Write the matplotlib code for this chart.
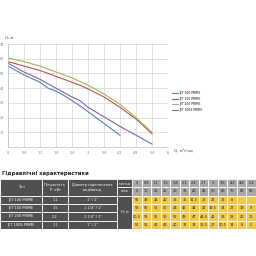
import matplotlib
matplotlib.use("Agg")
from matplotlib import pyplot as plt
from matplotlib.patches import Rectangle

# flow points (m3/h and l/min) used in the table and for the curves
q_m3h = [0, 0.6, 1.2, 1.5, 1.8, 2.1, 2.4, 2.7, 3, 3.6, 4.2, 4.8, 5.4]
q_lmin = [0, 10, 20, 25, 30, 35, 40, 45, 50, 60, 70, 80, 90]

models = ["JET 100 PRIME", "JET 150 PRIME", "JET 200 PRIME", "JET 100S PRIME"]
power = ["1,1", "1,5", "2,2", "1,1"]
diam = ['1" / 1"', '1 1/4" / 1"', '1 1/4" / 1"', '1" / 1"']
heads = [
    [55, 49, 44, 40, 38, 35, 31.5, 28, 24, 16, 8, None, None],
    [58, 55, 52, 50, 48, 46, 44, 42, 39.5, 34, 27, 19, 9],
    [60.5, 58, 55, 53, 51, 49, 47, 44.5, 42, 36, 29, 20, 10],
    [57, 51, 46, 43, 40, 37, 34, 31.5, 27, 20.5, 14, 8, 2],
]
colors = ["#4F81BD", "#C0504D", "#9BBB59", "#8064A2"]

x_ticks = [0, 0.6, 1.2, 1.8, 2.4, 3, 3.6, 4.2, 4.8, 5.4, 6]
y_ticks = [0, 10, 20, 30, 40, 50, 60, 70]

def fmt(v):
    s = ("%g" % v)
    return s.replace(".", ",")

fig = plt.figure(figsize=(2.56, 2.56), dpi=100)
fig.patch.set_facecolor("white")

# ---- chart ----
ax = fig.add_axes([8 / 256, 1 - 147 / 256, 160 / 256, 103 / 256])
for h, c, name in zip(heads, colors, models):
    xs = [q for q, v in zip(q_m3h, h) if v is not None]
    ys = [v for v in h if v is not None]
    ax.plot(xs, ys, color=c, lw=0.8, label=name)
ax.set_xlim(0, 6)
ax.set_ylim(0, 70)
ax.set_xticks(x_ticks)
ax.set_yticks(y_ticks)
ax.set_xticklabels([fmt(v) for v in x_ticks], fontsize=2.4, color="#777777")
ax.set_yticklabels(["" if v == 0 else str(v) for v in y_ticks], fontsize=2.4, color="#777777")
ax.tick_params(length=0, pad=3)
ax.grid(True, color="#d4d4d4", lw=0.5)
for s in ["top", "right"]:
    ax.spines[s].set_visible(False)
for s in ["left", "bottom"]:
    ax.spines[s].set_color("#c0c0c0")
    ax.spines[s].set_linewidth(0.5)
ax.text(-0.02, 1.05, "H, м", transform=ax.transAxes, fontsize=2.8, color="#444444", ha="left")
ax.text(1.04, -0.02, "Q, м³/год", transform=ax.transAxes, fontsize=2.8, color="#444444", va="top")
ax.legend(loc="center left", bbox_to_anchor=(1.01, 0.44), frameon=False, fontsize=2.2,
          handlelength=2.0, labelspacing=0.5, handletextpad=0.4)

# ---- table ----
fig.text(2 / 256, 1 - 173 / 256, "Гідравлічні характеристики", fontsize=3.8, fontweight="bold",
         va="center", color="#222222")
tax = fig.add_axes([0, 1 - 229 / 256, 1, 50 / 256])
tax.set_xlim(0, 256)
tax.set_ylim(6, 0)
tax.axis("off")
dark = "#505050"
grey = "#a8a8a8"
yellow = "#F2C84B"
col_edges = [0, 42, 68, 117, 132]
dw = (256 - 132) / len(q_m3h)

def cell(x0, y0, w, h, fc, txt, tc, fs=2.5):
    tax.add_patch(Rectangle((x0, y0), w, h, facecolor=fc, edgecolor="white", lw=0.6))
    tax.text(x0 + w / 2, y0 + h / 2, txt, ha="center", va="center", fontsize=fs, color=tc)

cell(0, 0, 42, 2, dark, "Тип", "white")
cell(42, 0, 26, 2, dark, "Потужність\nP, кВт", "white")
cell(68, 0, 49, 2, dark, "Діаметр підключення\nвхід/вихід", "white")
cell(117, 0, 15, 1, dark, "м³/год", "white")
cell(117, 1, 15, 1, dark, "л/хв", "white")
cell(117, 2, 15, 4, dark, "H, м", "white")
for j, (q, l) in enumerate(zip(q_m3h, q_lmin)):
    cell(132 + j * dw, 0, dw, 1, grey, fmt(q), "#222222")
    cell(132 + j * dw, 1, dw, 1, grey, str(l), "#222222")
for i in range(len(models)):
    cell(0, 2 + i, 42, 1, dark, models[i], "white")
    cell(42, 2 + i, 26, 1, dark, power[i], "white")
    cell(68, 2 + i, 49, 1, dark, diam[i], "white")
    for j, v in enumerate(heads[i]):
        cell(132 + j * dw, 2 + i, dw, 1, yellow, "" if v is None else fmt(v), "#222222")

fig.savefig("out.png", dpi=100)
